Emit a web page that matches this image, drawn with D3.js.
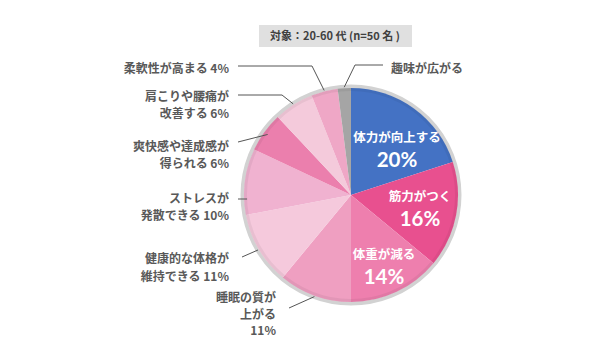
<!DOCTYPE html>
<html>
<head>
<meta charset="utf-8">
<script src="https://cdn.jsdelivr.net/npm/d3@7"></script>
<style>
  body { margin: 0; background: #fff; }
  text { font-family: "Noto Sans CJK JP", "Noto Sans", sans-serif; font-weight: bold; }
  .pct { font-family: Lato, "Open Sans", sans-serif; font-weight: bold; }
</style>
</head>
<body>
<div id="chart"></div>
<script>
// 項目 (clockwise from 12 o'clock)
var categories = ["体力が向上する", "筋力がつく", "体重が減る", "睡眠の質が上がる", "健康的な体格が維持できる",
  "ストレスが発散できる", "爽快感や達成感が得られる", "肩こりや腰痛が改善する", "柔軟性が高まる", "趣味が広がる"];
var values = [20, 16, 14, 11, 11, 10, 6, 6, 4, 2];
var colors = ["#4472c4", "#e8508f", "#ee7fae", "#ef9fc1", "#f5c9dc", "#f0b2d0", "#eb7fad", "#f4cadb", "#efa7c6", "#a5a5a5"];

// inner labels (white) for the big slices
var innerLines = [["体力が向上する"], ["筋力がつく"], ["体重が減る"]];

// outside labels: text lines per slice index
var outerLines = {
  3: ["睡眠の質が", "上がる", "11%"],
  4: ["健康的な体格が", "維持できる 11%"],
  5: ["ストレスが", "発散できる 10%"],
  6: ["爽快感や達成感が", "得られる 6%"],
  7: ["肩こりや腰痛が", "改善する 6%"],
  8: ["柔軟性が高まる 4%"],
  9: ["趣味が広がる"]
};

var width = 606, height = 353;
var cx = 351, cy = 195, r = 107;

var svg = d3.select("#chart").append("svg")
  .attr("width", width)
  .attr("height", height);

// header box
var head = svg.append("g");
head.append("rect")
  .attr("x", 259).attr("y", 25).attr("width", 153).attr("height", 22)
  .attr("fill", "#e0e0e0");
head.append("text")
  .attr("x", 335).attr("y", 40)
  .attr("text-anchor", "middle")
  .attr("font-size", 11)
  .attr("fill", "#404040")
  .text("対象：20-60 代 (n=50 名 )");

var pie = d3.pie().sort(null).value(function(d) { return d; });
var arcs = pie(values);

var arc = d3.arc().innerRadius(0).outerRadius(r);

var g = svg.append("g").attr("transform", "translate(" + cx + "," + cy + ")");

// gray rim
g.append("circle")
  .attr("r", r + 1.5)
  .attr("fill", "none")
  .attr("stroke", "#d2d2d2")
  .attr("stroke-width", 4);

g.selectAll("path.slice")
  .data(arcs)
  .enter().append("path")
  .attr("class", "slice")
  .attr("d", arc)
  .attr("fill", function(d, i) { return colors[i]; });

// subtle darker edge inside the rim
g.append("circle")
  .attr("r", r - 1.5)
  .attr("fill", "none")
  .attr("stroke", "#000")
  .attr("stroke-opacity", 0.05)
  .attr("stroke-width", 3);

// inner labels
var innerPos = [
  { dx: 46, dy: -53 },
  { dx: 69, dy: 6 },
  { dx: 33, dy: 64 }
];
innerLines.forEach(function(lines, i) {
  var p = innerPos[i];
  g.append("text")
    .attr("x", p.dx).attr("y", p.dy)
    .attr("text-anchor", "middle")
    .attr("fill", "#fff")
    .attr("font-size", 12.5)
    .text(lines[0]);
  g.append("text")
    .attr("class", "pct")
    .attr("x", p.dx).attr("y", p.dy + 25)
    .attr("text-anchor", "middle")
    .attr("fill", "#fff")
    .attr("font-size", 20.5)
    .text(values[i] + "%");
});

// outside labels with leader lines
var outerLayout = {
  3: { x: 276, y: 302, lh: 16.5, anchor: "end", from: [289, 308] },
  4: { x: 229, y: 263, lh: 18, anchor: "end", from: [242, 257] },
  5: { x: 229, y: 203, lh: 17, anchor: "end", from: [238, 199], angle: 268, rr: 104 },
  6: { x: 229, y: 151, lh: 16.5, anchor: "end", from: [238, 142], rr: 103 },
  7: { x: 229, y: 101, lh: 16.5, anchor: "end", from: [238, 95], elbow: [282, 95] },
  8: { x: 229, y: 73, lh: 16, anchor: "end", from: [238, 66], elbow: [312, 66] },
  9: { x: 391, y: 73, lh: 16, anchor: "start", from: [383, 65], elbow: [355, 65] }
};

var lineGen = d3.line();

Object.keys(outerLines).forEach(function(k) {
  var i = +k;
  var lay = outerLayout[i];
  var a = arcs[i];
  var ang = lay.angle !== undefined ? lay.angle * Math.PI / 180 : (a.startAngle + a.endAngle) / 2;
  var rr = lay.rr || r + 1;
  var end = [cx + rr * Math.sin(ang), cy - rr * Math.cos(ang)];
  if (lay.angle !== undefined) end[1] = lay.from[1];
  var pts = [lay.from];
  if (lay.elbow) pts.push(lay.elbow);
  pts.push(end);
  svg.append("path")
    .attr("d", lineGen(pts))
    .attr("fill", "none")
    .attr("stroke", "#555")
    .attr("stroke-width", 1);

  var t = svg.append("text")
    .attr("text-anchor", lay.anchor)
    .attr("font-size", 12)
    .attr("fill", "#595959");
  outerLines[i].forEach(function(s, j) {
    t.append("tspan")
      .attr("x", lay.x)
      .attr("y", lay.y + j * lay.lh)
      .text(s);
  });
});
</script>
</body>
</html>
